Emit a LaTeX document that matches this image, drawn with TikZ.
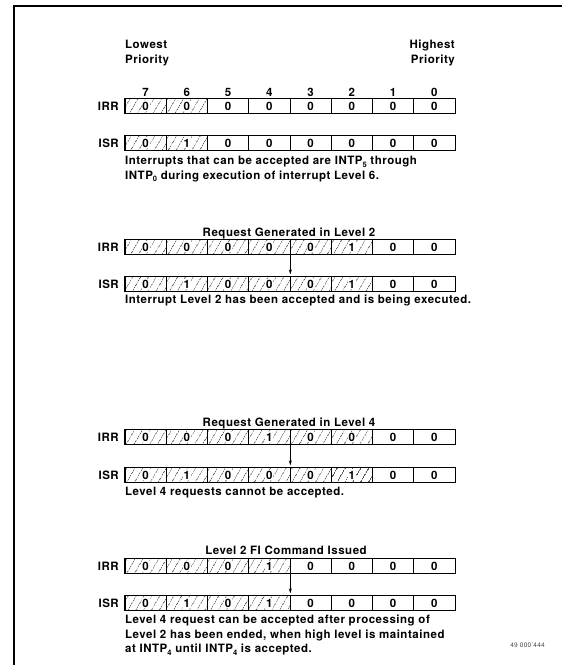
\documentclass[tikz,border=0pt]{standalone}
\usepackage{fontspec}
\setmainfont{TeX Gyre Heros}[LetterSpace=4.5]
\usetikzlibrary{patterns.meta,arrows.meta}

\tikzset{
  cell/.style={draw,line width=0.7pt,minimum width=41.25pt,minimum height=14.5pt,inner sep=0pt},
  hatched/.style={cell,pattern={Lines[angle=60,distance=6.5pt,line width=0.5pt]}},
  reglabel/.style={anchor=east,inner sep=0pt},
  note/.style={anchor=north west,align=left,inner sep=0pt},
  regtitle/.style={anchor=base,inner sep=0pt},
  transfer/.style={-{Stealth[length=5pt,width=3pt]},line width=0.6pt},
}

% one register row: name, y, label, bit values 7..0, number of hatched cells
\newcommand\regrow[5]{%
  \node[reglabel] (#1lbl) at (119,#2) {#3};
  \foreach \v [count=\i] in {#4} {%
    \pgfmathtruncatemacro\bit{8-\i}%
    \ifnum\i>#5\relax
      \node[cell] (#1-\bit) at ({125+(\i-0.5)*41.25},#2) {\v};
    \else
      \node[hatched,label={[fill=white,inner sep=0.8pt]center:\v}] (#1-\bit) at ({125+(\i-0.5)*41.25},#2) {};
    \fi
  }
  \draw[line width=1.2pt] (#1-7.north west) rectangle (#1-0.south east);
}
\newcommand\sub[1]{\raisebox{-0.45ex}{\fontsize{7.5}{8}\selectfont#1}}

\begin{document}
\begin{tikzpicture}[x=1pt,y=-1pt,font=\bfseries\fontsize{11.5}{14.5}\selectfont]
  \useasboundingbox (0,0) rectangle (562,665);
  \draw[line width=1.3pt] (562,6) -- (14,6) -- (14,665);

  % priority header
  \node[note] (lowest) at (125,40) {Lowest\\Priority};
  \node[anchor=north east,align=right,inner sep=0pt] (highest) at (455,40) {Highest\\Priority};
  \foreach \b [count=\i] in {7,6,...,0}
    \node (bit\b) at ({125+(\i-0.5)*41.25},92) {\b};

  % level 6 in service
  \regrow{irrA}{106}{IRR}{0,0,0,0,0,0,0,0}{2}
  \regrow{isrA}{143}{ISR}{0,1,0,0,0,0,0,0}{2}
  \node[note] (noteA) at (125,156) {Interrupts that can be accepted are INTP\sub{5} through\\INTP\sub{0} during execution of interrupt Level 6.};

  % request in level 2
  \node[regtitle] (titleB) at (289,236) {Request Generated in Level 2};
  \regrow{irrB}{247}{IRR}{0,0,0,0,0,1,0,0}{6}
  \regrow{isrB}{284}{ISR}{0,1,0,0,0,1,0,0}{6}
  \draw[transfer] (irrB-4.south east) -- ([yshift=2pt]isrB-4.north east);
  \node[note] (noteB) at (125,295) {Interrupt Level 2 has been accepted and is being executed.};

  % request in level 4
  \node[regtitle] (titleC) at (289,426) {Request Generated in Level 4};
  \regrow{irrC}{437}{IRR}{0,0,0,1,0,0,0,0}{6}
  \regrow{isrC}{475}{ISR}{0,1,0,0,0,1,0,0}{6}
  \draw[transfer] (irrC-4.south east) -- ([yshift=2pt]isrC-4.north east);
  \node[note] (noteC) at (125,487) {Level 4 requests cannot be accepted.};

  % FI command
  \node[regtitle] (titleD) at (286,554) {Level 2 FI Command Issued};
  \regrow{irrD}{566}{IRR}{0,0,0,1,0,0,0,0}{4}
  \regrow{isrD}{603}{ISR}{0,1,0,1,0,0,0,0}{4}
  \draw[transfer] (irrD-4.south east) -- ([yshift=2pt]isrD-4.north east);
  \node[note] (noteD) at (125,615) {Level 4 request can be accepted after processing of\\Level 2 has been ended, when high level is maintained\\at INTP\sub{4} until INTP\sub{4} is accepted.};

  \node[anchor=east,inner sep=0pt,font=\mdseries\fontsize{6.5}{7}\selectfont,text=black!70] (figno) at (545,645) {49 000'444};
\end{tikzpicture}
\end{document}
